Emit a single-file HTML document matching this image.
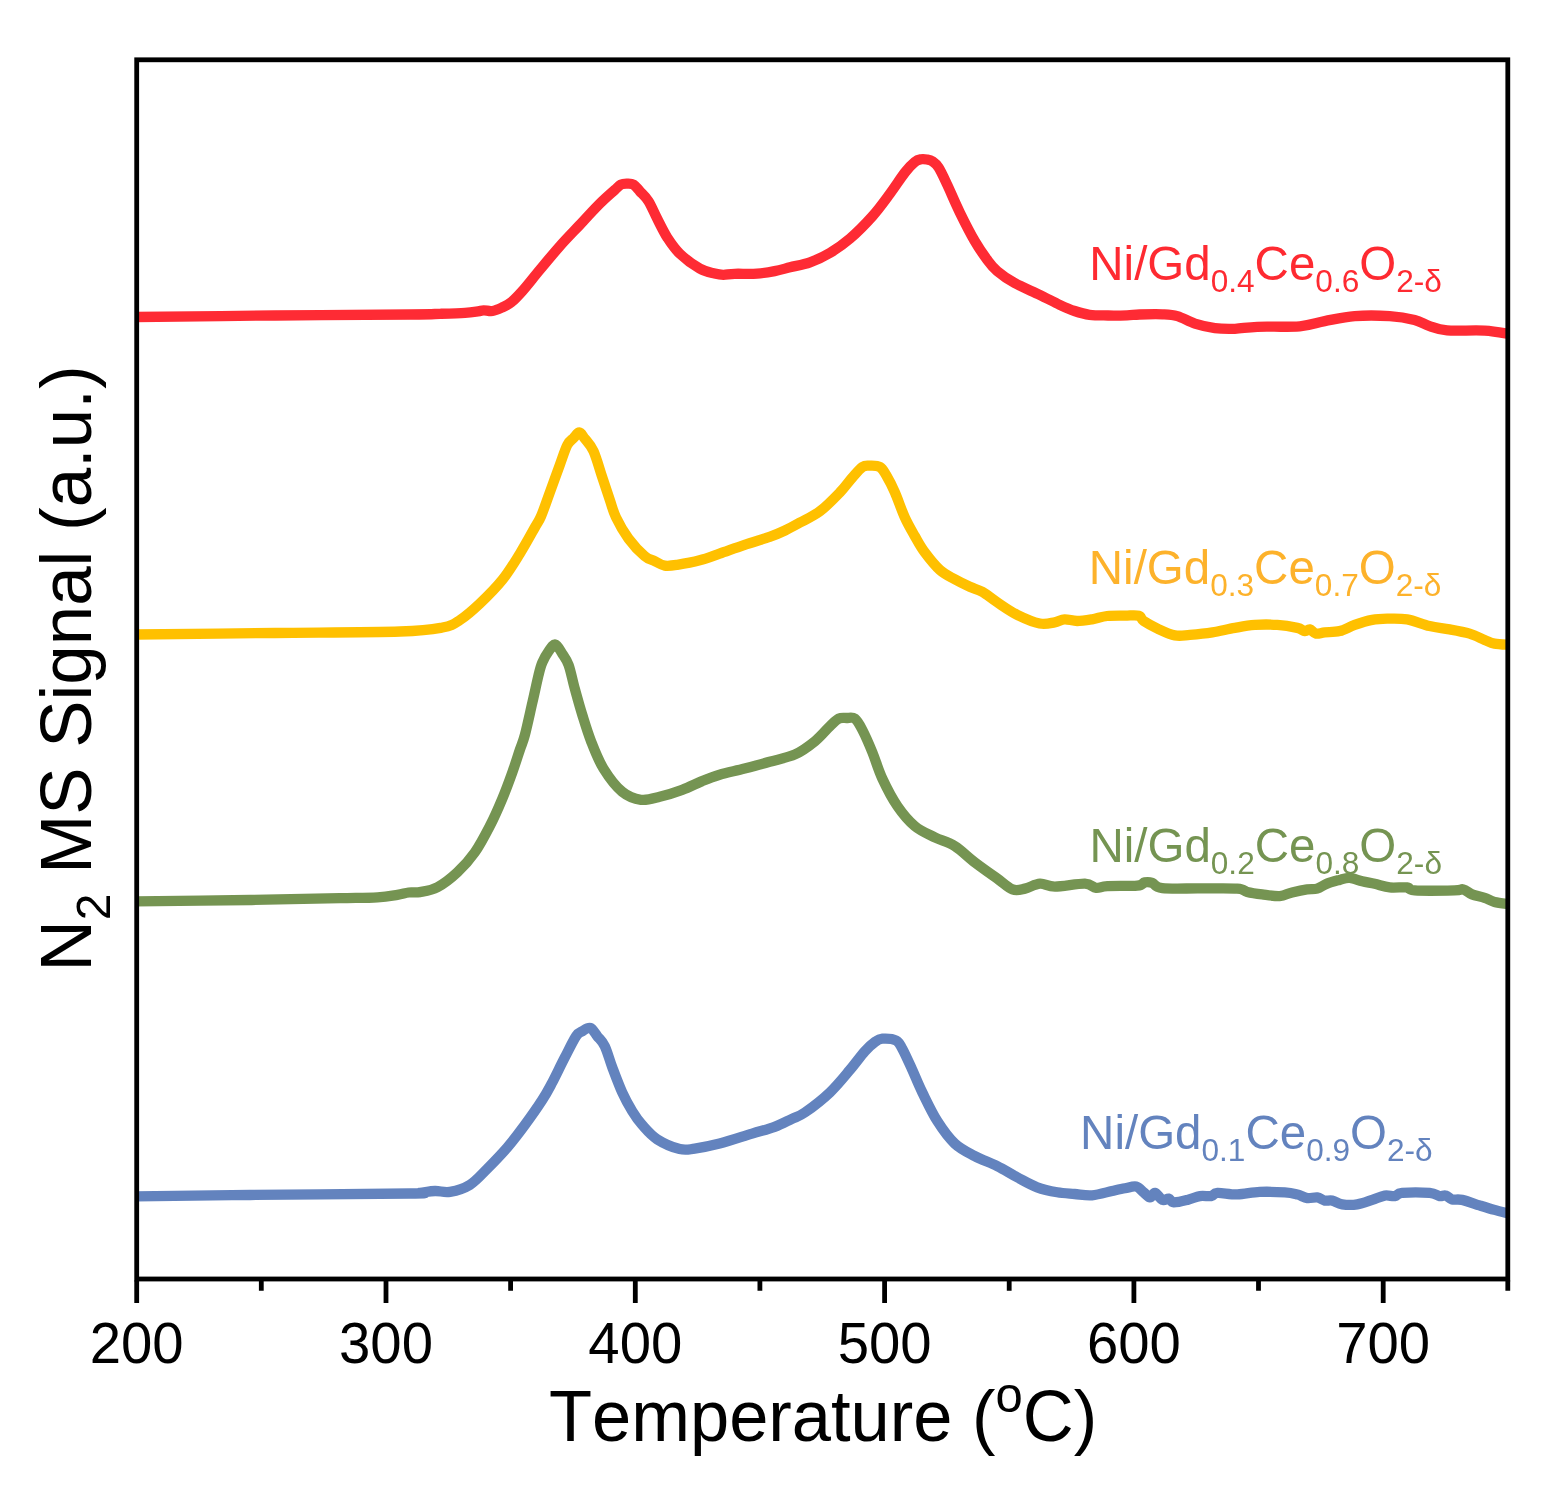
<!DOCTYPE html>
<html lang="en"><head><meta charset="utf-8"><title>N2 MS Signal vs Temperature</title>
<style>
html,body{margin:0;padding:0;background:#fff;}
body{width:1562px;height:1489px;overflow:hidden;}
svg{display:block;}
text{font-family:"Liberation Sans",sans-serif;font-kerning:none;}
.tick{font-size:56.3px;fill:#000;text-anchor:middle;}
.title{font-size:70px;fill:#000;}
.lab{font-size:47.5px;}
.curve{fill:none;stroke-width:10.3px;stroke-linejoin:round;stroke-linecap:butt;}
</style></head><body>
<svg width="1562" height="1489" viewBox="0 0 1562 1489">
<rect width="1562" height="1489" fill="#ffffff"/>
<defs><clipPath id="plot"><rect x="136.7" y="59.8" width="1371.1" height="1219.2"/></clipPath></defs>

<g clip-path="url(#plot)">
<path class="curve" stroke="#FE2B34" d="M134.0 317.0C157.5 316.8 229.0 315.9 275.0 315.5C321.0 315.1 382.5 314.8 410.0 314.5C437.5 314.2 430.8 314.1 440.0 313.8C449.2 313.5 458.7 313.2 465.0 312.8C471.3 312.4 474.9 311.8 478.0 311.4C481.1 311.0 481.3 310.4 483.7 310.3C486.1 310.2 489.3 311.5 492.4 311.0C495.4 310.5 498.9 308.9 502.0 307.5C505.1 306.1 507.8 305.1 511.2 302.3C514.6 299.6 517.6 296.4 522.4 291.0C527.2 285.6 533.6 277.3 539.9 269.8C546.1 262.3 553.2 253.6 559.9 246.1C566.5 238.6 573.1 232.0 579.8 224.9C586.4 217.8 594.0 209.5 599.8 203.7C605.6 197.9 611.3 193.1 614.8 189.9C618.3 186.7 619.0 185.7 621.0 184.6C623.0 183.5 624.9 183.6 627.0 183.6C629.1 183.6 631.4 183.3 633.5 184.6C635.6 185.9 637.3 188.4 639.8 191.2C642.3 194.0 645.6 196.6 648.5 201.2C651.4 205.8 654.1 212.7 657.2 218.7C660.3 224.7 663.5 231.6 667.2 237.4C671.0 243.2 674.3 248.4 679.7 253.6C685.1 258.8 693.9 265.3 699.7 268.6C705.5 271.9 710.8 272.6 714.7 273.6C718.7 274.6 720.1 274.8 723.4 274.8C726.7 274.8 729.0 274.0 734.6 273.8C740.2 273.6 750.4 274.1 757.1 273.6C763.8 273.2 769.1 272.2 774.6 271.1C780.1 270.1 784.1 268.8 790.0 267.3C795.9 265.8 803.3 264.7 810.0 262.3C816.7 259.9 823.4 256.9 830.0 252.9C836.6 248.9 842.8 244.7 849.9 238.6C857.0 232.5 865.7 223.7 872.4 216.2C879.1 208.7 884.5 201.0 889.9 193.7C895.3 186.4 900.8 177.8 904.9 172.5C909.0 167.2 912.1 164.2 914.8 162.0C917.5 159.8 919.1 159.7 921.1 159.3C923.1 158.9 925.1 159.2 927.0 159.5C928.9 159.8 930.4 159.9 932.3 161.2C934.2 162.5 936.1 163.6 938.6 167.5C941.1 171.4 943.8 177.4 947.3 184.9C950.8 192.4 955.2 203.0 959.8 212.4C964.4 221.8 970.2 233.2 974.8 241.1C979.4 249.0 983.6 254.9 987.3 259.9C991.0 264.9 992.6 267.2 997.2 271.1C1001.8 275.0 1007.6 279.2 1014.7 283.1C1021.8 287.1 1032.2 291.2 1039.7 294.8C1047.2 298.4 1053.9 302.1 1059.7 304.8C1065.5 307.5 1069.6 309.3 1074.6 311.0C1079.6 312.7 1084.0 314.1 1089.6 314.8C1095.2 315.6 1101.8 315.4 1108.0 315.5C1114.2 315.6 1121.8 315.5 1127.1 315.3C1132.4 315.1 1133.7 314.7 1139.6 314.5C1145.5 314.3 1156.2 314.0 1162.5 314.3C1168.8 314.6 1172.0 314.6 1177.4 316.1C1182.8 317.7 1188.7 321.6 1194.9 323.6C1201.2 325.6 1208.2 327.2 1214.9 328.1C1221.6 329.0 1227.8 329.0 1234.9 328.8C1242.0 328.6 1246.5 327.2 1257.3 326.8C1268.1 326.4 1288.5 327.2 1299.8 326.3C1311.0 325.4 1315.6 322.8 1324.8 321.1C1334.0 319.4 1343.9 316.9 1354.7 316.1C1365.5 315.3 1379.7 315.5 1389.7 316.1C1399.7 316.7 1407.9 318.2 1414.6 319.9C1421.2 321.6 1424.2 324.4 1429.6 326.1C1435.0 327.9 1437.9 329.6 1447.1 330.4C1456.3 331.1 1474.1 330.0 1484.6 330.6C1495.1 331.2 1505.8 333.6 1510.0 334.2"/>
<path class="curve" stroke="#FFC000" d="M134.0 634.5C157.5 634.2 230.7 633.5 275.0 633.0C319.3 632.5 372.1 632.4 400.0 631.5C427.9 630.6 432.5 629.4 442.5 627.5C452.5 625.6 453.8 624.0 460.0 620.0C466.2 616.0 472.8 610.2 479.9 603.5C487.0 596.8 495.7 588.1 502.4 579.8C509.1 571.5 514.5 562.3 519.9 553.6C525.3 544.9 531.4 533.6 534.9 527.4C538.4 521.1 538.6 521.9 541.1 516.1C543.6 510.3 546.7 500.9 549.8 492.4C552.9 483.9 556.9 472.8 559.8 464.9C562.7 457.0 565.0 449.5 567.3 445.0C569.6 440.5 571.6 440.1 573.6 438.0C575.6 435.9 577.4 432.4 579.3 432.5C581.2 432.6 582.4 435.6 584.8 438.7C587.2 441.8 590.6 444.8 593.5 451.2C596.4 457.6 599.6 469.3 602.3 477.4C605.0 485.5 607.5 493.2 609.8 499.9C612.1 506.6 612.9 510.9 616.0 517.4C619.1 523.9 623.7 532.1 628.5 538.6C633.3 545.1 640.3 552.4 644.7 556.1C649.1 559.9 651.4 559.5 654.7 561.1C658.0 562.7 661.0 565.0 664.7 565.6C668.5 566.2 671.4 565.7 677.2 564.8C683.0 563.9 692.6 562.2 699.7 560.3C706.8 558.4 712.1 556.2 719.6 553.6C727.1 551.0 736.3 547.6 744.6 544.8C752.9 542.0 762.9 539.3 769.6 536.9C776.3 534.5 779.9 532.9 785.0 530.5C790.1 528.1 794.2 525.8 800.0 522.6C805.8 519.4 813.4 516.2 820.0 511.2C826.6 506.2 834.5 498.0 839.9 492.4C845.3 486.8 848.6 481.7 852.4 477.5C856.1 473.3 859.5 469.0 862.4 467.0C865.3 465.0 867.0 465.7 869.9 465.7C872.8 465.7 877.2 465.4 879.9 467.0C882.6 468.6 883.6 470.8 886.1 475.0C888.6 479.2 891.8 485.3 894.9 492.4C898.0 499.5 901.5 510.1 904.8 517.4C908.1 524.7 911.5 530.3 914.8 536.1C918.1 541.9 920.6 546.8 924.8 552.4C929.0 558.0 934.8 565.4 939.8 569.9C944.8 574.4 949.8 576.5 954.8 579.3C959.8 582.1 965.2 584.7 969.8 586.8C974.4 588.9 977.6 589.2 982.2 591.8C986.8 594.4 991.4 598.5 997.2 602.3C1003.0 606.1 1010.1 611.3 1017.2 614.8C1024.3 618.3 1033.5 622.2 1039.7 623.5C1046.0 624.8 1050.6 623.0 1054.7 622.3C1058.8 621.6 1060.9 619.5 1064.6 619.3C1068.3 619.1 1072.5 621.0 1077.1 621.0C1081.7 621.0 1087.1 620.1 1092.1 619.3C1097.1 618.5 1101.6 616.6 1107.1 616.0C1112.6 615.4 1119.7 615.6 1125.0 615.6C1130.3 615.6 1135.6 614.8 1138.7 615.7C1141.8 616.6 1140.6 619.0 1143.7 621.1C1146.8 623.2 1152.3 626.2 1157.5 628.6C1162.7 631.0 1169.5 634.4 1174.9 635.4C1180.3 636.4 1183.7 635.4 1189.9 634.9C1196.2 634.4 1204.9 633.6 1212.4 632.4C1219.9 631.2 1227.8 629.1 1234.9 627.9C1242.0 626.6 1247.7 625.4 1254.8 624.9C1261.9 624.4 1270.2 624.4 1277.3 624.9C1284.4 625.4 1292.7 626.9 1297.3 627.9C1301.9 628.9 1302.7 630.9 1304.8 631.1C1306.9 631.4 1307.9 629.0 1309.8 629.4C1311.7 629.8 1313.5 633.1 1316.0 633.6C1318.5 634.1 1320.8 632.8 1324.8 632.4C1328.8 632.0 1334.7 632.4 1339.7 631.1C1344.7 629.9 1349.3 626.8 1354.7 624.9C1360.1 623.0 1366.8 620.9 1372.2 619.9C1377.6 618.9 1381.4 618.8 1387.2 618.7C1393.0 618.6 1400.0 618.2 1407.1 619.4C1414.2 620.6 1422.5 624.4 1429.6 626.1C1436.7 627.8 1442.9 628.1 1449.6 629.4C1456.3 630.6 1463.8 631.9 1469.6 633.6C1475.4 635.4 1480.4 638.2 1484.6 639.9C1488.8 641.6 1490.3 642.8 1494.5 643.6C1498.7 644.4 1507.4 644.6 1510.0 644.8"/>
<path class="curve" stroke="#759452" d="M134.0 901.5C153.3 901.2 215.7 900.5 250.0 900.0C284.3 899.5 318.8 898.7 340.0 898.2C361.2 897.8 367.9 897.9 377.5 897.3C387.1 896.7 392.2 895.6 397.4 894.8C402.6 894.0 404.9 893.0 408.7 892.5C412.4 892.0 415.1 893.0 419.9 892.1C424.7 891.2 431.1 890.6 437.4 887.3C443.6 884.0 451.2 878.1 457.4 872.3C463.6 866.5 469.4 860.1 474.8 852.4C480.2 844.7 485.2 835.0 489.8 826.1C494.4 817.2 498.6 807.6 502.3 798.7C506.1 789.8 509.4 780.6 512.3 772.5C515.2 764.4 517.7 756.3 519.8 750.0C521.9 743.7 522.8 742.8 524.9 734.9C527.0 727.0 530.1 712.4 532.4 702.4C534.7 692.4 537.0 681.5 538.6 674.9C540.2 668.2 540.6 666.5 542.3 662.5C544.0 658.5 546.4 654.2 548.6 651.2C550.8 648.2 553.0 644.1 555.3 644.5C557.6 644.9 560.1 650.3 562.3 653.7C564.5 657.1 566.5 659.2 568.6 665.0C570.7 670.8 572.5 680.4 574.8 688.7C577.1 697.0 579.6 706.2 582.3 714.9C585.0 723.6 587.5 732.1 591.0 741.1C594.5 750.1 598.3 760.2 603.5 768.6C608.7 777.0 616.0 786.6 622.2 791.8C628.5 797.0 634.8 799.0 641.0 799.8C647.2 800.6 652.8 798.5 659.7 796.8C666.6 795.1 675.1 792.4 682.2 789.8C689.3 787.2 695.9 783.6 702.1 781.1C708.3 778.6 712.5 776.9 719.6 774.8C726.7 772.7 736.3 770.8 744.6 768.6C752.9 766.4 761.2 764.2 769.6 761.8C778.0 759.4 787.4 757.8 795.0 754.4C802.6 751.0 809.2 745.9 815.0 741.2C820.8 736.5 825.9 730.0 829.9 726.2C833.9 722.5 835.9 720.1 838.7 718.7C841.5 717.3 843.8 718.0 846.5 718.0C849.2 718.0 852.2 716.7 854.9 718.7C857.5 720.7 859.5 724.4 862.4 730.0C865.3 735.6 869.1 744.3 872.4 752.4C875.7 760.5 878.2 769.8 882.4 778.7C886.6 787.7 892.0 798.2 897.4 806.1C902.8 814.0 908.6 820.9 914.8 826.1C921.0 831.3 928.1 834.0 934.8 837.3C941.5 840.6 948.1 841.9 954.8 846.1C961.5 850.3 967.7 856.9 974.8 862.3C981.9 867.7 990.9 874.0 997.2 878.5C1003.5 883.0 1007.9 887.7 1012.5 889.4C1017.1 891.1 1020.4 889.6 1025.0 888.6C1029.6 887.6 1035.0 883.9 1040.0 883.6C1045.0 883.3 1047.4 886.6 1054.9 886.6C1062.4 886.6 1078.0 883.4 1084.9 883.6C1091.8 883.8 1092.3 887.5 1096.1 887.9C1099.8 888.3 1100.5 886.5 1107.4 886.1C1114.3 885.7 1131.1 886.2 1137.3 885.6C1143.5 885.0 1142.3 882.9 1144.8 882.4C1147.3 881.9 1149.4 881.9 1152.3 882.9C1155.2 883.9 1154.3 887.2 1162.3 888.1C1170.2 889.0 1187.5 888.3 1200.0 888.4C1212.5 888.5 1229.3 888.0 1237.2 888.6C1245.1 889.2 1243.0 890.9 1247.2 891.9C1251.4 892.9 1256.8 893.7 1262.2 894.4C1267.6 895.1 1274.7 896.4 1279.7 896.1C1284.7 895.8 1287.5 893.5 1292.1 892.4C1296.7 891.3 1302.9 890.0 1307.1 889.4C1311.3 888.8 1313.8 889.6 1317.1 888.6C1320.4 887.6 1323.3 885.1 1327.1 883.6C1330.8 882.1 1335.8 880.9 1339.6 879.9C1343.3 878.9 1345.8 877.7 1349.6 877.9C1353.4 878.1 1358.0 880.3 1362.2 881.3C1366.4 882.3 1370.1 882.8 1374.7 883.8C1379.3 884.8 1384.3 886.8 1389.7 887.4C1395.1 888.0 1402.9 886.9 1407.1 887.4C1411.2 887.9 1406.7 889.9 1414.6 890.4C1422.5 890.9 1446.5 890.6 1454.6 890.4C1462.7 890.2 1460.4 888.7 1463.3 889.4C1466.2 890.1 1468.5 893.0 1472.0 894.4C1475.5 895.8 1480.8 896.6 1484.6 897.9C1488.3 899.1 1490.3 900.8 1494.5 901.9C1498.7 903.0 1507.4 903.8 1510.0 904.2"/>
<path class="curve" stroke="#6383BE" d="M134.0 1196.5C153.3 1196.2 204.0 1195.5 250.0 1195.0C296.0 1194.5 381.7 1193.9 410.0 1193.5C438.3 1193.1 415.8 1193.2 420.0 1192.8C424.2 1192.4 430.0 1191.2 435.0 1191.0C440.0 1190.8 444.2 1192.8 450.0 1191.8C455.8 1190.8 463.7 1188.7 469.9 1184.8C476.1 1180.9 481.1 1174.8 487.4 1168.6C493.6 1162.3 501.1 1154.6 507.4 1147.3C513.6 1140.0 519.1 1132.8 524.9 1124.9C530.7 1117.0 537.7 1107.0 542.3 1099.9C546.9 1092.8 548.5 1089.5 552.3 1082.4C556.0 1075.3 560.8 1065.1 564.8 1057.4C568.8 1049.7 573.2 1040.6 576.1 1036.2C579.0 1031.8 579.9 1032.6 582.3 1031.2C584.7 1029.8 587.8 1027.2 590.3 1028.0C592.8 1028.8 594.9 1033.2 597.3 1036.2C599.7 1039.2 602.3 1041.0 604.8 1046.2C607.3 1051.4 609.4 1059.7 612.3 1067.4C615.2 1075.1 618.9 1085.1 622.2 1092.4C625.5 1099.7 628.9 1105.7 632.2 1111.1C635.5 1116.5 638.0 1120.2 642.2 1124.9C646.4 1129.6 651.0 1135.3 657.2 1139.3C663.5 1143.3 673.5 1147.5 679.7 1149.1C686.0 1150.6 688.1 1149.5 694.7 1148.6C701.4 1147.7 710.0 1146.1 719.6 1143.6C729.2 1141.1 742.9 1136.4 752.1 1133.6C761.3 1130.8 768.0 1129.4 774.6 1126.9C781.2 1124.4 786.9 1121.2 792.0 1118.8C797.1 1116.4 798.7 1116.8 805.0 1112.4C811.3 1108.0 822.4 1099.5 829.9 1092.4C837.4 1085.3 844.1 1076.8 849.9 1069.9C855.7 1063.0 860.7 1055.9 864.9 1051.2C869.1 1046.5 872.0 1044.1 874.9 1042.0C877.8 1039.9 878.9 1039.0 882.4 1038.7C885.9 1038.5 892.8 1038.8 896.1 1040.5C899.4 1042.2 899.6 1043.8 902.3 1048.7C905.0 1053.6 909.0 1062.6 912.3 1069.9C915.6 1077.2 918.1 1083.9 922.3 1092.4C926.5 1100.9 931.9 1112.6 937.3 1121.1C942.7 1129.6 948.5 1137.8 954.8 1143.6C961.0 1149.4 967.7 1152.3 974.8 1156.1C981.9 1159.8 990.1 1162.6 997.2 1166.1C1004.3 1169.6 1010.5 1173.8 1017.2 1177.3C1023.9 1180.8 1030.5 1184.8 1037.2 1187.3C1043.9 1189.8 1051.0 1191.2 1057.2 1192.3C1063.4 1193.4 1068.8 1193.5 1074.6 1194.0C1080.4 1194.5 1085.8 1195.8 1092.1 1195.3C1098.3 1194.8 1106.6 1192.2 1112.1 1191.0C1117.6 1189.8 1121.0 1189.0 1125.0 1188.3C1129.0 1187.6 1133.1 1185.9 1136.2 1186.6C1139.3 1187.3 1141.4 1190.6 1143.7 1192.4C1146.0 1194.2 1148.1 1197.3 1150.0 1197.4C1151.9 1197.5 1152.9 1192.5 1155.0 1192.9C1157.1 1193.3 1160.2 1199.0 1162.5 1199.9C1164.8 1200.9 1166.8 1198.2 1168.7 1198.6C1170.6 1199.0 1170.6 1202.2 1173.7 1202.4C1176.8 1202.6 1183.0 1201.0 1187.4 1199.9C1191.8 1198.9 1196.0 1196.7 1199.9 1196.1C1203.9 1195.5 1208.2 1196.6 1211.1 1196.1C1214.0 1195.6 1213.0 1193.2 1217.4 1192.9C1221.8 1192.6 1230.3 1194.6 1237.4 1194.4C1244.5 1194.2 1251.9 1192.2 1259.8 1191.9C1267.7 1191.6 1278.5 1192.0 1284.8 1192.4C1291.0 1192.8 1293.5 1193.5 1297.3 1194.4C1301.0 1195.4 1304.0 1197.6 1307.3 1198.1C1310.6 1198.6 1314.4 1197.0 1317.3 1197.4C1320.2 1197.8 1322.3 1200.1 1324.8 1200.6C1327.3 1201.1 1329.3 1200.0 1332.2 1200.6C1335.1 1201.2 1338.0 1203.8 1342.2 1204.4C1346.4 1205.0 1352.2 1205.2 1357.2 1204.4C1362.2 1203.7 1367.6 1201.4 1372.2 1199.9C1376.8 1198.4 1381.0 1196.2 1384.7 1195.6C1388.5 1195.0 1391.8 1196.5 1394.7 1196.1C1397.6 1195.6 1396.4 1193.4 1402.2 1192.9C1408.0 1192.4 1423.4 1192.4 1429.6 1192.9C1435.8 1193.4 1436.9 1195.6 1439.6 1196.1C1442.3 1196.5 1443.7 1195.0 1445.8 1195.6C1447.9 1196.1 1449.4 1198.7 1452.1 1199.4C1454.8 1200.1 1457.5 1198.9 1462.1 1199.9C1466.7 1200.9 1474.2 1203.7 1479.6 1205.4C1485.0 1207.1 1489.4 1208.5 1494.5 1209.9C1499.6 1211.3 1507.4 1213.3 1510.0 1214.0"/>
</g>
<rect x="136.7" y="59.8" width="1371.1" height="1219.2" fill="none" stroke="#000" stroke-width="4.8"/>
<path d="M136.7 1280.5 V1302.9M261.3 1280.5 V1290.8M386.0 1280.5 V1302.9M510.6 1280.5 V1290.8M635.3 1280.5 V1302.9M759.9 1280.5 V1290.8M884.6 1280.5 V1302.9M1009.2 1280.5 V1290.8M1133.9 1280.5 V1302.9M1258.5 1280.5 V1290.8M1383.2 1280.5 V1302.9M1507.8 1280.5 V1290.8" stroke="#000" stroke-width="4.8" fill="none"/>
<text class="tick" transform="translate(136.7,1363.2) scale(1,1.01)">200</text>
<text class="tick" transform="translate(386.0,1363.2) scale(1,1.01)">300</text>
<text class="tick" transform="translate(635.3,1363.2) scale(1,1.01)">400</text>
<text class="tick" transform="translate(884.6,1363.2) scale(1,1.01)">500</text>
<text class="tick" transform="translate(1133.9,1363.2) scale(1,1.01)">600</text>
<text class="tick" transform="translate(1383.2,1363.2) scale(1,1.01)">700</text>
<text class="title" style="font-size:70.5px" transform="translate(549,1440.7) scale(1,1.02)" id="xt">Temperature (<tspan font-size="49px" dy="-28">o</tspan><tspan dy="28">C)</tspan></text>
<text class="title" style="font-size:70.9px" id="yt" transform="translate(90.9,971.4) rotate(-90) scale(1,1.02)">N<tspan font-size="48px" dy="18.9">2</tspan><tspan dy="-18.9"> MS Signal (a.u.)</tspan></text>
<text class="lab" id="l1" transform="translate(1089.3,280.1) scale(1,1.02)" fill="#FE2A31">Ni/Gd<tspan font-size="31.6px" dy="11.8">0.4</tspan><tspan dy="-11.8">Ce</tspan><tspan font-size="31.6px" dy="11.8">0.6</tspan><tspan dy="-11.8">O</tspan><tspan font-size="31.6px" dy="11.8">2-δ</tspan></text>
<text class="lab" id="l2" transform="translate(1088.8,583.8) scale(1,1.02)" fill="#FDB22B">Ni/Gd<tspan font-size="31.6px" dy="11.8">0.3</tspan><tspan dy="-11.8">Ce</tspan><tspan font-size="31.6px" dy="11.8">0.7</tspan><tspan dy="-11.8">O</tspan><tspan font-size="31.6px" dy="11.8">2-δ</tspan></text>
<text class="lab" id="l3" transform="translate(1089.4,862.1) scale(1,1.02)" fill="#759452">Ni/Gd<tspan font-size="31.6px" dy="11.8">0.2</tspan><tspan dy="-11.8">Ce</tspan><tspan font-size="31.6px" dy="11.8">0.8</tspan><tspan dy="-11.8">O</tspan><tspan font-size="31.6px" dy="11.8">2-δ</tspan></text>
<text class="lab" id="l4" transform="translate(1080.1,1148.7) scale(1,1.02)" fill="#6383BE">Ni/Gd<tspan font-size="31.6px" dy="11.8">0.1</tspan><tspan dy="-11.8">Ce</tspan><tspan font-size="31.6px" dy="11.8">0.9</tspan><tspan dy="-11.8">O</tspan><tspan font-size="31.6px" dy="11.8">2-δ</tspan></text>
</svg>
</body></html>
